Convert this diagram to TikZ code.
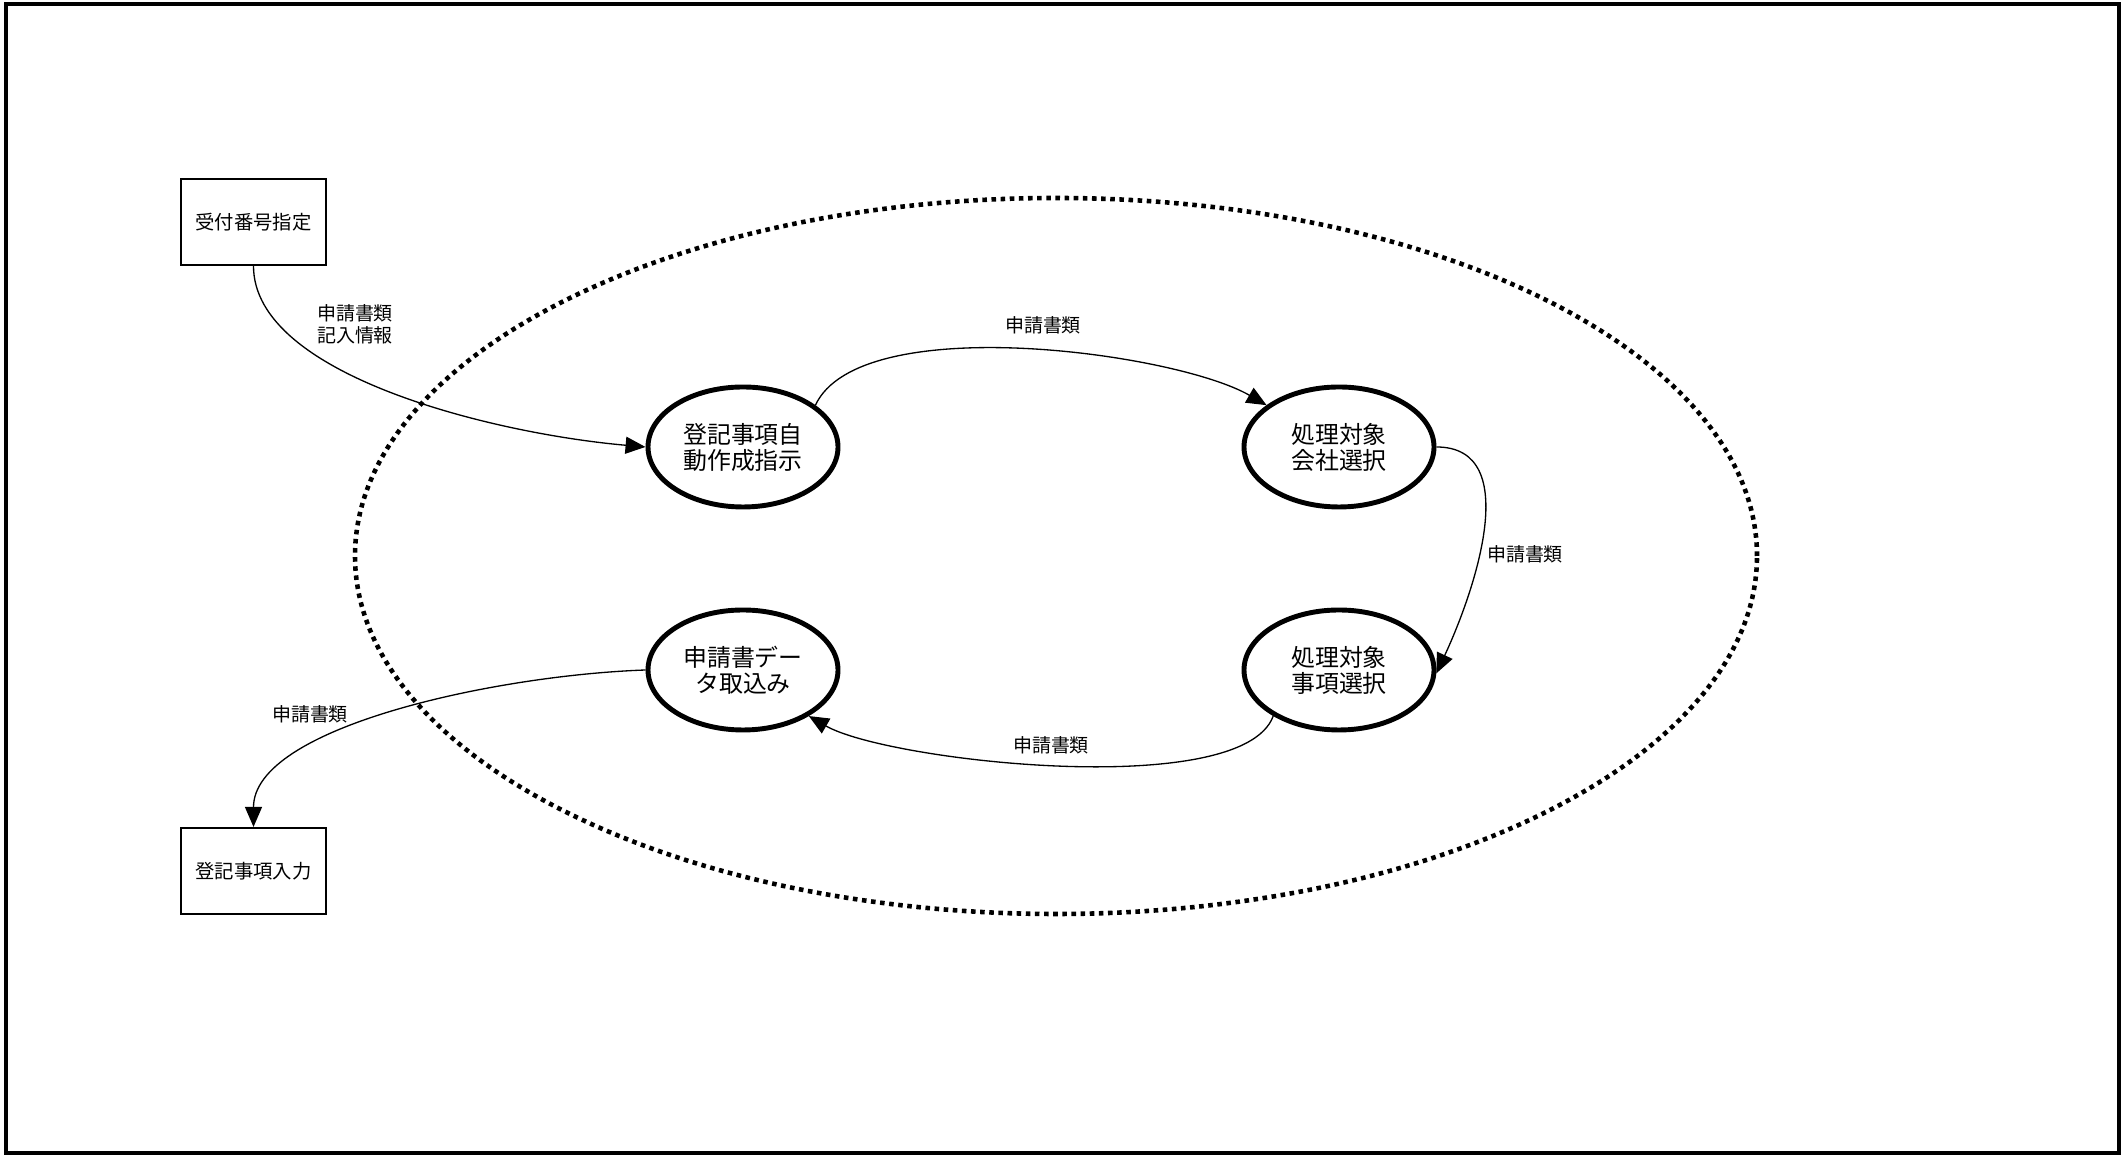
\documentclass[tikz,border=0pt]{standalone}
\usepackage{fontspec}
\setmainfont{Noto Sans CJK JP}
\usetikzlibrary{shapes,arrows.meta,positioning}

\begin{document}
\begin{tikzpicture}[
    proc/.style={ellipse, draw, line width=2.8pt, minimum width=3.8cm, minimum height=2.4cm, inner sep=0pt, align=center, font=\fontsize{13.6}{14.8}\selectfont},
    ext/.style={rectangle, draw, line width=1.2pt, minimum width=2.9cm, minimum height=1.72cm, font=\fontsize{11}{13}\selectfont},
    flow/.style={line width=0.75pt, -{Triangle[length=0.4cm,width=0.34cm]}},
    lbl/.style={align=center, inner sep=0pt, font=\fontsize{10.8}{12.3}\selectfont}]
                \def\L{14.86}
                \def\R{26.78}
                \useasboundingbox (0,0) rectangle (42.46,23.1);
                \draw[line width=2.3pt] (0.12,0.04) rectangle (42.38,23.02);
                % boundary of the system
                \draw[line width=2.6pt, dash pattern=on 2.6pt off 2.6pt] (21.12,11.98) ellipse (14.02cm and 7.16cm);
                \node[ext] (recv) at (5.07,18.66) {受付番号指定};
                \node[ext] (input) at (5.07,5.68) {登記事項入力};
                \node[proc] (auto) at (\L,14.16) {登記事項自\\動作成指示};
                \node[proc] (corp) at (\R,14.16) {処理対象\\会社選択};
                \node[proc] (item) at (\R,9.70) {処理対象\\事項選択};
                \node[proc] (load) at (\L,9.70) {申請書デー\\タ取込み};
                \draw[flow] (recv.south) to[out=-90,in=175,out distance=2.2cm,in distance=3cm] (auto.west);
                \draw[flow] (auto.30) to[out=65,in=150,looseness=0.6] (corp.150);
                \draw[flow] (corp.0) to[out=0,in=65] (item.-2);
                \draw[flow] (item.215) to[out=-110,in=-30,looseness=0.5] (load.-35);
                \draw[flow] (load.west) to[out=182,in=90,out distance=3cm,in distance=2cm] (input.north);
                \node[lbl] (l1) at (7.1,16.62) {申請書類\\記入情報};
                \node[lbl] (l2) at (20.86,16.6) {申請書類};
                \node[lbl] (l3) at (30.5,12.02) {申請書類};
                \node[lbl] (l4) at (21.02,8.2) {申請書類};
                \node[lbl] (l5) at (6.2,8.82) {申請書類};
\end{tikzpicture}
\end{document}
